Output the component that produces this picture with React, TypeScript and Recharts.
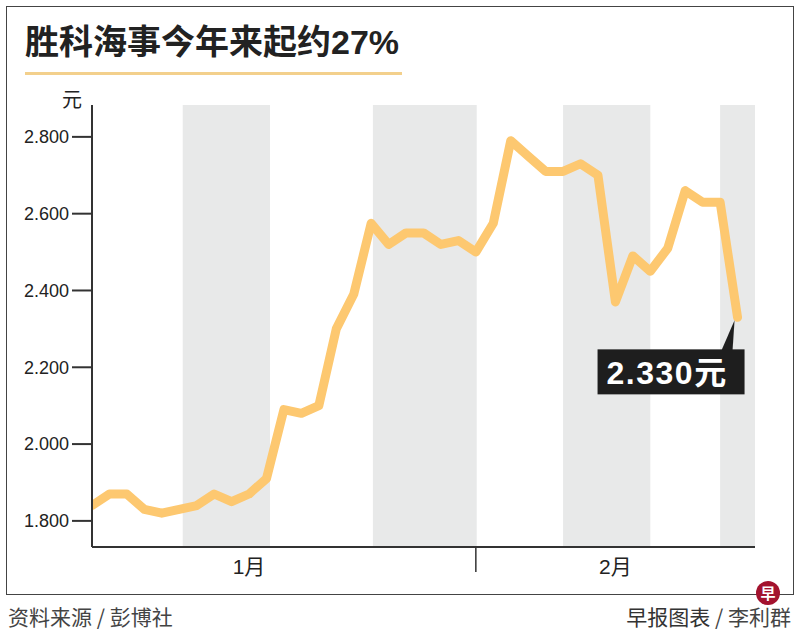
import React from "react";
import {
  LineChart,
  Line,
  XAxis,
  YAxis,
  ReferenceArea,
  ReferenceDot,
} from "recharts";

// 交易日收盘价（元），按日序号排列
const prices = [
  1.84, 1.87, 1.87, 1.83, 1.82, 1.83, 1.84, 1.87, 1.85, 1.87,
  1.91, 2.09, 2.08, 2.10, 2.30, 2.39, 2.575, 2.52, 2.55, 2.55,
  2.52, 2.53, 2.50, 2.575, 2.79, 2.75, 2.71, 2.71, 2.73, 2.70,
  2.37, 2.49, 2.45, 2.51, 2.66, 2.63, 2.63, 2.33,
];

// 灰色周带（日序号范围）
const weekBands = [
  [5.2, 10.2],
  [16.1, 22.05],
  [27, 32],
  [36, 38],
];

const monthLabels = [
  { at: 9, text: "1月" },
  { at: 30, text: "2月" },
];
const monthDividers = [22];

const yTicks = [1.8, 2.0, 2.2, 2.4, 2.6, 2.8];
const lastLabel = "2.330元";

const data = prices.map((p, i) => ({ i, price: p }));

const FONT = "'Liberation Sans', 'Noto Sans CJK SC', sans-serif";
const CJK = "'Noto Sans CJK SC', sans-serif";

const MonthTick = (props: any) => {
  const { x, y, payload } = props;
  if (monthDividers.includes(payload.value)) {
    return <line x1={x} x2={x} y1={y} y2={y + 25} stroke="#333" strokeWidth={1.5} />;
  }
  const m = monthLabels.find((d) => d.at === payload.value);
  return (
    <text x={x} y={y + 27} textAnchor="middle" fontSize={21} fill="#222" fontFamily={FONT}>
      {m ? m.text : ""}
    </text>
  );
};

const Callout = (props: any) => {
  const { cx, cy } = props;
  return (
    <g>
      <polygon
        points={`${cx - 3},${cy + 3} ${cx - 16},${cy + 33} ${cx - 5},${cy + 33}`}
        fill="#1e1e1e"
      />
      <rect x={cx - 140} y={cy + 32} width={147} height={45} fill="#1e1e1e" />
      <text
        x={cx - 131}
        y={cy + 67}
        fontSize={32}
        fontWeight={700}
        letterSpacing={1.5}
        fill="#fff"
        fontFamily={FONT}
      >
        {lastLabel}
      </text>
    </g>
  );
};

export default function App() {
  return (
    <div style={{ position: "absolute", left: 0, top: 0, width: 800, height: 632, background: "#fff" }}>
      <div
        style={{
          position: "absolute",
          left: 6,
          top: 6,
          width: 788,
          height: 589,
          border: "1.5px solid #444",
          boxSizing: "border-box",
        }}
      />
      <div
        style={{
          position: "absolute",
          left: 25,
          top: 25,
          fontSize: 34,
          fontWeight: 700,
          lineHeight: 1,
          fontFamily: FONT,
          color: "#222",
          whiteSpace: "nowrap",
        }}
      >
        胜科海事今年来起约27%
      </div>
      <div style={{ position: "absolute", left: 25, top: 72, width: 377, height: 3, background: "#F3D08C" }} />
      <div
        style={{ position: "absolute", left: 62, top: 89, fontSize: 20, lineHeight: 1, fontFamily: CJK, color: "#222" }}
      >
        元
      </div>
      <div style={{ position: "absolute", left: 0, top: 0 }}>
        <LineChart width={800} height={632} data={data} margin={{ top: 105, right: 45, bottom: 45, left: 12 }}>
          {weekBands.map(([a, b], k) => (
            <ReferenceArea key={k} x1={a} x2={b} fill="#E8E9E9" fillOpacity={1} stroke="none" ifOverflow="visible" />
          ))}
          <XAxis
            type="number"
            dataKey="i"
            domain={[0, 38]}
            ticks={[...monthLabels.map((m) => m.at), ...monthDividers]}
            tick={<MonthTick />}
            tickLine={false}
            tickSize={0}
            tickMargin={0}
            height={40}
            axisLine={{ stroke: "#333", strokeWidth: 2 }}
            allowDataOverflow
            interval={0}
          />
          <YAxis
            type="number"
            domain={[1.732, 2.883]}
            ticks={yTicks}
            allowDataOverflow
            width={80}
            tickSize={20}
            tickMargin={3}
            interval={0}
            tickFormatter={(v: number) => v.toFixed(3)}
            tick={{ fill: "#222", fontSize: 18, fontFamily: FONT }}
            tickLine={{ stroke: "#333", strokeWidth: 2 }}
            axisLine={{ stroke: "#333", strokeWidth: 2 }}
          />
          <Line
            type="linear"
            dataKey="price"
            stroke="#FDC870"
            strokeWidth={9}
            strokeLinecap="round"
            strokeLinejoin="round"
            dot={false}
            activeDot={false}
            isAnimationActive={false}
          />
          <ReferenceDot x={37} y={prices[prices.length - 1]} r={1} ifOverflow="visible" shape={(p: any) => <Callout {...p} />} />
        </LineChart>
      </div>
      <div
        style={{ position: "absolute", left: 8, top: 606, fontSize: 21, lineHeight: 1, fontFamily: CJK, color: "#444", whiteSpace: "nowrap" }}
      >
        资料来源 / 彭博社
      </div>
      <div
        style={{ position: "absolute", right: 9, top: 606, fontSize: 21, lineHeight: 1, fontFamily: CJK, color: "#444", whiteSpace: "nowrap" }}
      >
        <span style={{ color: "#333" }}>早报图表</span> / 李利群
      </div>
      <div
        style={{
          position: "absolute",
          left: 756,
          top: 581,
          width: 24,
          height: 24,
          borderRadius: "50%",
          background: "#A3122E",
          color: "#fff",
          fontSize: 15,
          fontWeight: 700,
          lineHeight: "24px",
          textAlign: "center",
          fontFamily: CJK,
        }}
      >
        早
      </div>
    </div>
  );
}
